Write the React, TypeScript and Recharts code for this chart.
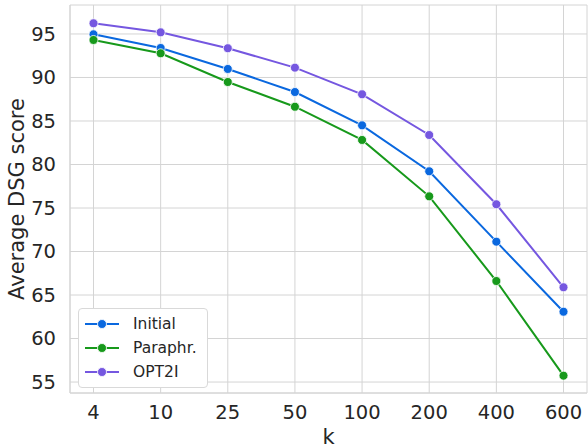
import { LineChart, Line, XAxis, YAxis, CartesianGrid } from "recharts";

const kValues = ["4", "10", "25", "50", "100", "200", "400", "600"];
const initial = [94.96, 93.39, 90.98, 88.33, 84.5, 79.22, 71.13, 63.08];
const paraphr = [94.31, 92.78, 89.48, 86.64, 82.82, 76.34, 66.61, 55.73];
const opt2i = [96.23, 95.19, 93.36, 91.13, 88.07, 83.39, 75.43, 65.89];
const yTicks = [55, 60, 65, 70, 75, 80, 85, 90, 95];

const series = [
  { key: "initial", name: "Initial", color: "#0a68df" },
  { key: "paraphr", name: "Paraphr.", color: "#17991b" },
  { key: "opt2i", name: "OPT2I", color: "#7557e0" },
];

const data = kValues.map((k, i) => ({
  k,
  initial: initial[i],
  paraphr: paraphr[i],
  opt2i: opt2i[i],
}));

const FONT = "'DejaVu Sans', sans-serif";
const GRID = "#d4d4d4";
const TEXT = "#262626";

function LegendBox() {
  return (
    <div
      style={{
        position: "absolute",
        left: 78,
        top: 308,
        background: "#fff",
        border: "1px solid #d9d9d9",
        borderRadius: 4,
        padding: "3px 10px 3px 4px",
        fontFamily: FONT,
        fontSize: 15.5,
        color: TEXT,
      }}
    >
      {series.map((s) => (
        <div key={s.key} style={{ display: "flex", alignItems: "center", height: 24 }}>
          <svg width={38} height={12} style={{ marginRight: 12 }}>
            <line x1={2} y1={6} x2={36} y2={6} stroke={s.color} strokeWidth={2} />
            <circle cx={19} cy={6} r={4.5} fill={s.color} stroke="#fff" strokeWidth={0.8} />
          </svg>
          <span>{s.name}</span>
        </div>
      ))}
    </div>
  );
}

export default function App() {
  return (
    <div style={{ position: "absolute", left: 0, top: 0, width: 588, height: 448, background: "#fff" }}>
      <LineChart
        width={588}
        height={448}
        data={data}
        margin={{ top: 5, right: 1, bottom: 0, left: 0 }}
      >
        <CartesianGrid stroke={GRID} strokeWidth={1} />
        <XAxis
          dataKey="k"
          padding={{ left: 23.5, right: 23.5 }}
          height={55}
          stroke={GRID}
          tickLine={false}
          tick={{ fill: TEXT, fontSize: 19.5, fontFamily: FONT }}
          tickMargin={6}
          label={{
            value: "k",
            position: "insideBottom",
            offset: 4,
            fill: TEXT,
            fontSize: 21,
            fontFamily: FONT,
          }}
        />
        <XAxis xAxisId="top" dataKey="k" orientation="top" height={0} tick={false} tickLine={false} stroke={GRID} />
        <YAxis
          domain={[53.74, 98.33]}
          ticks={yTicks}
          width={70}
          stroke={GRID}
          tickLine={false}
          tick={{ fill: TEXT, fontSize: 19.5, fontFamily: FONT }}
          tickMargin={8}
          label={{
            value: "Average DSG score",
            angle: -90,
            position: "insideLeft",
            offset: 17,
            style: { textAnchor: "middle" },
            fill: TEXT,
            fontSize: 21,
            fontFamily: FONT,
          }}
        />
        <YAxis yAxisId="right" orientation="right" width={0} tick={false} tickLine={false} stroke={GRID} />
        {series.map((s) => (
          <Line
            key={s.key}
            dataKey={s.key}
            name={s.name}
            stroke={s.color}
            strokeWidth={2}
            dot={{ r: 4.5, fill: s.color, stroke: "#fff", strokeWidth: 0.8 }}
            isAnimationActive={false}
          />
        ))}
      </LineChart>
      <LegendBox />
    </div>
  );
}
